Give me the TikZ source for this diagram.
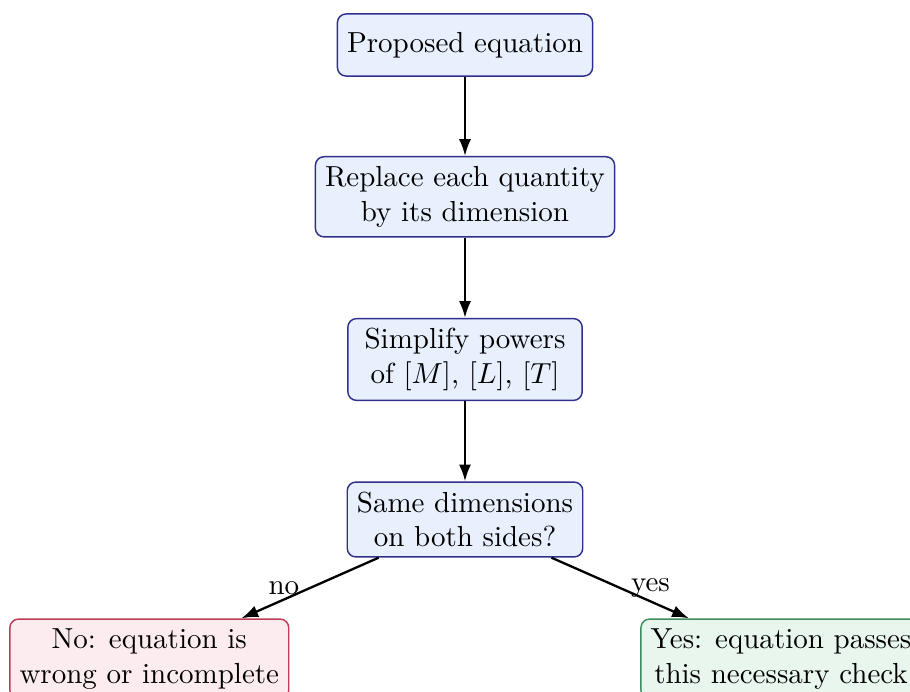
\documentclass[tikz,border=0pt]{standalone}
\usetikzlibrary{arrows.meta}
\definecolor{bfill}{RGB}{232,240,254}
\definecolor{bdraw}{RGB}{48,48,140}
\definecolor{rfill}{RGB}{253,236,239}
\definecolor{rdraw}{RGB}{190,60,85}
\definecolor{gfill}{RGB}{232,246,238}
\definecolor{gdraw}{RGB}{60,140,95}
\tikzset{
  box/.style={draw=bdraw, fill=bfill, line width=0.5pt, rounded corners=3pt,
    align=center, minimum width=80.8pt, minimum height=21.4pt, inner sep=3.33pt},
  nobox/.style={box, draw=rdraw, fill=rfill},
  yesbox/.style={box, draw=gdraw, fill=gfill},
  flow/.style={-{Latex[length=5.8pt,width=4.2pt]}, line width=0.8pt}
}
\begin{document}
\begin{tikzpicture}[x=0.3448pt, y=-0.3448pt]
\useasboundingbox (0,0) rectangle (910,691);
\clip (0,0) rectangle (910,691);
\node[box] (p) at (465,45) {Proposed equation};
\node[box] (r) at (465,196.8) {Replace each quantity\\by its dimension};
\node[box] (s) at (465,359.5) {Simplify powers\\of $[M]$, $[L]$, $[T]$};
\node[box] (d) at (465,519.5) {Same dimensions\\on both sides?};
\node[nobox] (n) at (149.3,659) {No: equation is\\wrong or incomplete};
\node[yesbox] (y) at (781,659) {Yes: equation passes\\this necessary check};
\draw[flow] (p) -- (r);
\draw[flow] (r) -- (s);
\draw[flow] (s) -- (d);
\draw[flow] (d) -- node[left] {no} (n);
\draw[flow] (d) -- node[right] {yes} (y);
\end{tikzpicture}
\end{document}
